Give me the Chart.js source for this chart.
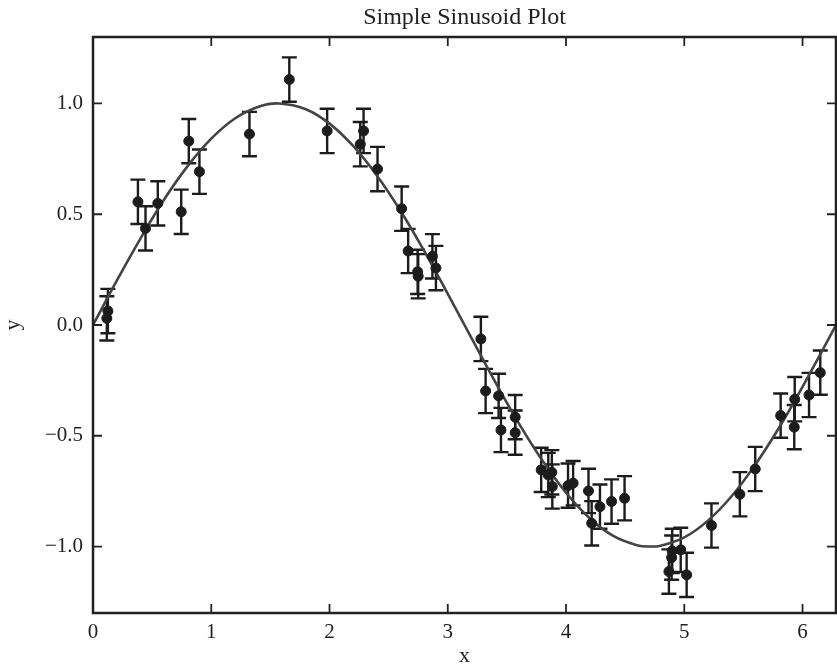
<!DOCTYPE html>
<html>
<head>
<meta charset="utf-8">
<script src="https://cdn.jsdelivr.net/npm/chart.js@4/dist/chart.umd.min.js"></script>
<style>
  body { margin: 0; background: #fff; }
  #wrap { width: 837px; height: 668px; position: relative; }
</style>
</head>
<body>
<div id="wrap"><canvas id="chart"></canvas></div>
<script>
// ---------- DATA ----------
const TITLE = "Simple Sinusoid Plot";
const X_LABEL = "x";
const Y_LABEL = "y";

const xTicks = [0, 1, 2, 3, 4, 5, 6];
const yTicks = [-1.0, -0.5, 0.0, 0.5, 1.0];
const xMax = 6.283;
const yMin = -1.3, yMax = 1.3;

// measured points
const xs = [0.117, 0.126, 0.38, 0.444, 0.548, 0.746, 0.81, 0.90, 1.323, 1.66,
  1.98, 2.26, 2.288, 2.406, 2.61, 2.665, 2.745, 2.75, 2.87, 2.90,
  3.28, 3.32, 3.43, 3.45, 3.57, 3.57, 3.79, 3.85, 3.88, 3.884,
  4.017, 4.06, 4.19, 4.217, 4.287, 4.385, 4.495, 4.87, 4.893, 4.898,
  4.97, 5.02, 5.23, 5.47, 5.60, 5.815, 5.93, 5.934, 6.055, 6.15];
const ys = [0.030, 0.063, 0.556, 0.436, 0.549, 0.511, 0.83, 0.692, 0.862, 1.108,
  0.876, 0.816, 0.876, 0.704, 0.525, 0.334, 0.24, 0.22, 0.31, 0.257,
  -0.063, -0.298, -0.32, -0.474, -0.416, -0.486, -0.654, -0.677, -0.665, -0.729,
  -0.725, -0.714, -0.749, -0.895, -0.82, -0.797, -0.782, -1.113, -1.05, -1.02,
  -1.015, -1.128, -0.905, -0.764, -0.65, -0.409, -0.461, -0.335, -0.316, -0.215];
const errs = [0.1, 0.1, 0.1, 0.1, 0.1, 0.1, 0.1, 0.1, 0.1, 0.1,
  0.1, 0.1, 0.1, 0.1, 0.1, 0.1, 0.1, 0.1, 0.1, 0.1,
  0.1, 0.1, 0.1, 0.1, 0.1, 0.1, 0.1, 0.1, 0.1, 0.1,
  0.1, 0.1, 0.1, 0.1, 0.1, 0.1, 0.1, 0.1, 0.1, 0.1,
  0.1, 0.1, 0.1, 0.1, 0.1, 0.1, 0.1, 0.1, 0.1, 0.1];

// fitted curve
const curveX = [0, 0.2, 0.4, 0.6, 0.8, 1.0, 1.2, 1.4, 1.571, 1.8, 2.0, 2.2, 2.4, 2.6, 2.8, 3.0,
  3.2, 3.4, 3.6, 3.8, 4.0, 4.2, 4.4, 4.6, 4.712, 4.8, 5.0, 5.2, 5.4, 5.6, 5.8, 6.0, 6.2, 6.283];
const curveY = [0, 0.199, 0.389, 0.565, 0.717, 0.841, 0.932, 0.985, 1.0, 0.974, 0.909, 0.808, 0.675, 0.516, 0.335, 0.141,
  -0.058, -0.256, -0.443, -0.612, -0.757, -0.872, -0.952, -0.994, -1.0, -0.996, -0.959, -0.883, -0.773, -0.631, -0.465, -0.279, -0.083, 0];

// ---------- STYLE ----------
const FONT = "'Liberation Serif', 'DejaVu Serif', serif";
const INK = "#1c1c1c";

const fmtY = v => (v < 0 ? "\u2212" : "") + Math.abs(v).toFixed(1);

// ---------- PLUGINS ----------
const errorBars = {
  id: "errorBars",
  beforeDatasetsDraw(chart) {
    const ctx = chart.ctx, xs_ = chart.scales.x, ys_ = chart.scales.y;
    ctx.save();
    ctx.strokeStyle = INK;
    ctx.lineWidth = 2.4;
    xs.forEach((x, i) => {
      const px = xs_.getPixelForValue(x);
      const top = ys_.getPixelForValue(ys[i] + errs[i]);
      const bot = ys_.getPixelForValue(ys[i] - errs[i]);
      ctx.beginPath();
      ctx.moveTo(px, top); ctx.lineTo(px, bot);
      ctx.moveTo(px - 7.5, top); ctx.lineTo(px + 7.5, top);
      ctx.moveTo(px - 7.5, bot); ctx.lineTo(px + 7.5, bot);
      ctx.stroke();
    });
    ctx.restore();
  }
};

const frame = {
  id: "frame",
  afterDraw(chart) {
    const ctx = chart.ctx, a = chart.chartArea;
    const sx = chart.scales.x, sy = chart.scales.y;
    ctx.save();
    ctx.strokeStyle = "#222";
    ctx.lineWidth = 2.5;
    ctx.strokeRect(a.left, a.top, a.right - a.left, a.bottom - a.top);

    // inward ticks on all four sides
    ctx.lineWidth = 1.8;
    const len = 9;
    ctx.beginPath();
    xTicks.forEach(v => {
      const px = sx.getPixelForValue(v);
      ctx.moveTo(px, a.bottom); ctx.lineTo(px, a.bottom - len);
      ctx.moveTo(px, a.top); ctx.lineTo(px, a.top + len);
    });
    yTicks.forEach(v => {
      const py = sy.getPixelForValue(v);
      ctx.moveTo(a.left, py); ctx.lineTo(a.left + len, py);
      ctx.moveTo(a.right, py); ctx.lineTo(a.right - len, py);
    });
    ctx.stroke();

    // title + axis labels
    ctx.fillStyle = "#222";
    ctx.textAlign = "center";
    ctx.textBaseline = "alphabetic";
    const cx = (a.left + a.right) / 2, cy = (a.top + a.bottom) / 2;
    ctx.font = "24px " + FONT;
    ctx.fillText(TITLE, cx, a.top - 13);
    ctx.font = "22px " + FONT;
    ctx.fillText(X_LABEL, cx, a.bottom + 49);
    ctx.translate(a.left - 74, cy);
    ctx.rotate(-Math.PI / 2);
    ctx.fillText(Y_LABEL, 0, 0);
    ctx.restore();
  }
};

// ---------- CHART ----------
new Chart(document.getElementById("chart"), {
  type: "scatter",
  data: {
    datasets: [
      {
        label: "data",
        data: xs.map((x, i) => ({ x, y: ys[i] })),
        backgroundColor: INK,
        borderColor: INK,
        pointRadius: 5,
        pointHoverRadius: 5,
        order: 1
      },
      {
        label: "fit",
        data: curveX.map((x, i) => ({ x, y: curveY[i] })),
        showLine: true,
        borderColor: "#444",
        borderWidth: 2.6,
        pointRadius: 0,
        tension: 0.4,
        fill: false,
        order: 2
      }
    ]
  },
  options: {
    responsive: true,
    maintainAspectRatio: false,
    animation: false,
    layout: { autoPadding: false, padding: { top: 37, right: 1, bottom: 0, left: 0 } },
    plugins: { legend: { display: false }, tooltip: { enabled: false }, title: { display: false } },
    scales: {
      x: {
        type: "linear",
        min: 0, max: xMax,
        grid: { display: false, drawTicks: false },
        border: { display: false },
        afterBuildTicks: s => { s.ticks = xTicks.map(v => ({ value: v })); },
        afterFit: s => { s.height = 55; s.paddingLeft = 0; s.paddingRight = 0; },
        ticks: {
          padding: 7,
          color: "#222",
          font: { family: FONT, size: 21 },
          callback: v => String(v)
        }
      },
      y: {
        type: "linear",
        min: yMin, max: yMax,
        grid: { display: false, drawTicks: false },
        border: { display: false },
        afterBuildTicks: s => { s.ticks = yTicks.map(v => ({ value: v })); },
        afterFit: s => { s.width = 93; s.paddingTop = 0; s.paddingBottom = 0; },
        ticks: {
          padding: 10,
          color: "#222",
          font: { family: FONT, size: 21 },
          callback: v => fmtY(v)
        }
      }
    }
  },
  plugins: [errorBars, frame]
});
</script>
</body>
</html>
